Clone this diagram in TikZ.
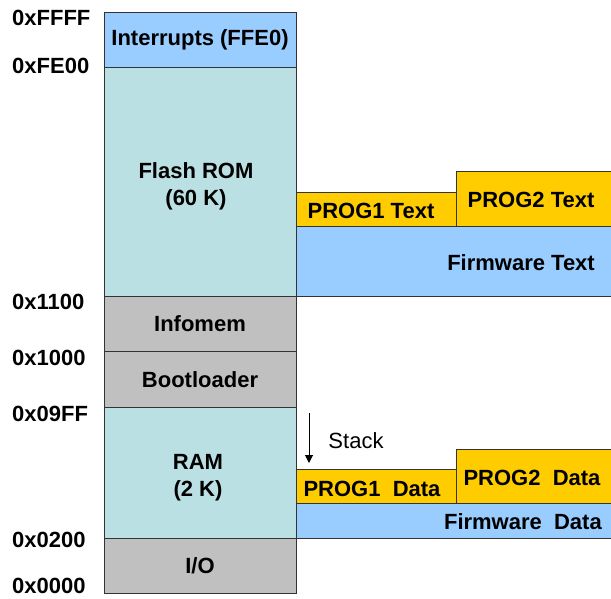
\documentclass[tikz,border=0pt]{standalone}
\usepackage{fontspec}
\setmainfont{Liberation Sans}
\usetikzlibrary{arrows.meta}
\definecolor{intblue}{HTML}{99CCFF}
\definecolor{flash}{HTML}{BBE0E3}
\definecolor{grayb}{HTML}{C0C0C0}
\definecolor{gold}{HTML}{FFCC00}
\definecolor{edge}{HTML}{333333}
\begin{document}
\begin{tikzpicture}[x=1pt,y=-1pt,
  box/.style={draw=edge, line width=1pt, inner sep=0pt, outer sep=0pt, align=center,
    font=\fontsize{22}{28}\selectfont\bfseries},
  addr/.style={anchor=west, inner sep=0pt, font=\fontsize{22}{26}\selectfont\bfseries},
  lbl/.style={inner sep=0pt, font=\fontsize{22}{26}\selectfont\bfseries}]
\useasboundingbox (0,0) rectangle (611,598);
% main column
\node[box, fill=intblue, minimum width=192pt, minimum height=55pt] (intr) at (200,39.5) {Interrupts (FFE0)};
\node[box, fill=flash, minimum width=192pt, minimum height=229pt] (flash) at (200,181.5) {};
\node[lbl, align=center, font=\fontsize{22}{27}\selectfont\bfseries] (flasht) at (196,186) {Flash ROM\\(60 K)};
\node[box, fill=grayb, minimum width=192pt, minimum height=55pt] (info) at (200,324) {Infomem};
\node[box, fill=grayb, minimum width=192pt, minimum height=56pt] (boot) at (200,379.5) {Bootloader};
\node[box, fill=flash, minimum width=192pt, minimum height=131pt] (ram) at (200,472.5) {};
\node[lbl, align=center, font=\fontsize{22}{27}\selectfont\bfseries] (ramt) at (198,478) {RAM\\(2 K)};
\node[box, fill=grayb, minimum width=192pt, minimum height=55pt] (io) at (200,565.5) {I/O};
% address labels
\node[addr] (a1) at (12,18) {0xFFFF};
\node[addr] (a2) at (12,66) {0xFE00};
\node[addr] (a3) at (12,302) {0x1100};
\node[addr] (a4) at (12,358) {0x1000};
\node[addr] (a5) at (12,414) {0x09FF};
\node[addr] (a6) at (12,540) {0x0200};
\node[addr, anchor=base west, text depth=0pt] (a7) at (12,593) {0x0000};
% text region
\node[box, fill=intblue, minimum width=317pt, minimum height=70pt] (fwt) at (454.5,261) {};
\node[lbl, anchor=east] (fwtt) at (595,263) {Firmware Text};
\node[box, fill=gold, minimum width=160pt, minimum height=34pt] (p1t) at (376,209) {};
\node[lbl] (p1tt) at (371,211) {PROG1 Text};
\node[box, fill=gold, minimum width=157pt, minimum height=55pt] (p2t) at (534.5,198.5) {};
\node[lbl] (p2tt) at (531,200) {PROG2 Text};
% data region
\node[box, fill=intblue, minimum width=317pt, minimum height=35pt] (fwd) at (454.5,520.5) {};
\node[lbl, anchor=east] (fwdt) at (602,522) {Firmware\ \ Data};
\node[box, fill=gold, minimum width=160pt, minimum height=34pt] (p1d) at (376,486) {};
\node[lbl] (p1dt) at (372,489) {PROG1\ \ Data};
\node[box, fill=gold, minimum width=157pt, minimum height=54pt] (p2d) at (534.5,476) {};
\node[lbl] (p2dt) at (532,478) {PROG2\ \ Data};
% stack
\coordinate (st1) at (309,413);
\coordinate (st2) at (309,463);
\draw[line width=1pt, -{Triangle[length=8pt,width=8pt]}] (st1) -- (st2);
\node[inner sep=0pt, font=\fontsize{22}{26}\selectfont] (stack) at (356,441) {Stack};
\end{tikzpicture}
\end{document}
